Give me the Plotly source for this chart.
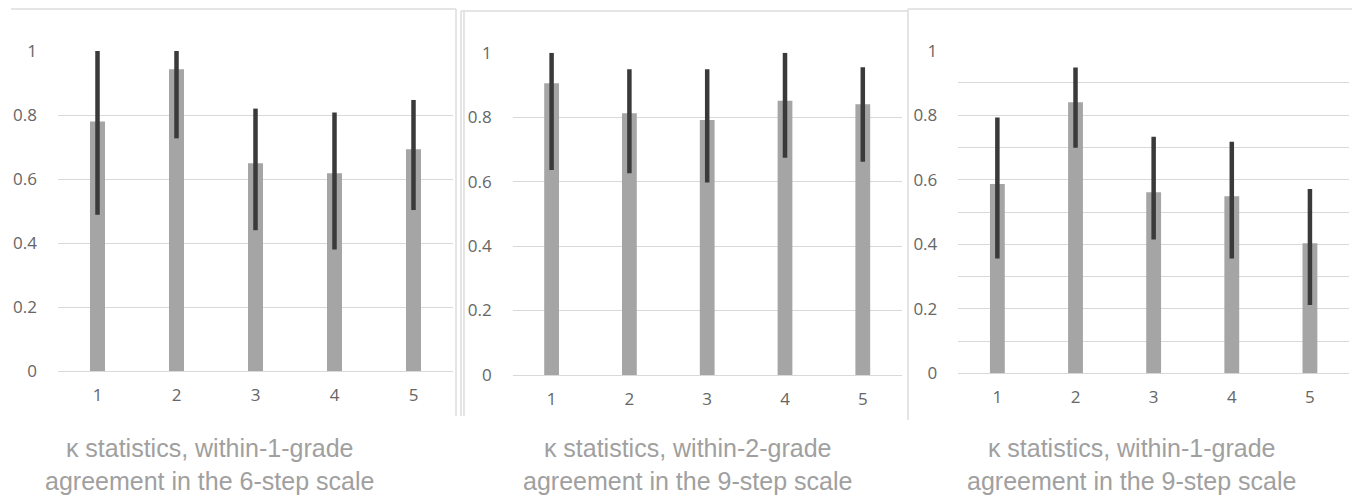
import plotly.graph_objects as go

# The page puts the figure at an 8px offset; size it so it fits the window.
OFF = 8
W, H = 1360 - OFF, 498 - OFF

categories = ["1", "2", "3", "4", "5"]

# Panel 1: within-1-grade agreement, 6-step scale
p1_value = [0.78, 0.943, 0.649, 0.618, 0.693]
p1_upper = [1.0, 1.0, 0.82, 0.808, 0.847]
p1_lower = [0.488, 0.727, 0.44, 0.38, 0.503]

# Panel 2: within-2-grade agreement, 9-step scale
p2_value = [0.905, 0.812, 0.791, 0.851, 0.840]
p2_upper = [1.0, 0.949, 0.949, 1.0, 0.955]
p2_lower = [0.636, 0.626, 0.597, 0.674, 0.662]

# Panel 3: within-1-grade agreement, 9-step scale
p3_value = [0.587, 0.840, 0.561, 0.549, 0.403]
p3_upper = [0.793, 0.948, 0.733, 0.718, 0.571]
p3_lower = [0.356, 0.699, 0.415, 0.356, 0.212]

captions = [
    "κ statistics, within-1-grade<br>agreement in the 6-step scale",
    "κ statistics, within-2-grade<br>agreement in the 9-step scale",
    "κ statistics, within-1-grade<br>agreement in the 9-step scale",
]

panels = [
    (p1_value, p1_upper, p1_lower),
    (p2_value, p2_upper, p2_lower),
    (p3_value, p3_upper, p3_lower),
]


def px(x):
    return (x - OFF) / W


def py(y):
    return 1 - (y - OFF) / H


# pixel geometry (window coords) of each plot area: (x_left, x_right, y_zero, y_one)
geom = [
    (58, 453, 371, 51),
    (512.7, 901.7, 375, 52.7),
    (958.3, 1349, 373.3, 50.7),
]
caption_x = [209, 687, 1131]

BAR = "#A5A5A5"
ERR = "#3A3A3A"
GRID = "#D9D9D9"
TICK = "#666666"

fig = go.Figure()
layout = dict(
    width=W, height=H,
    margin=dict(l=0, r=0, t=0, b=0, autoexpand=False),
    paper_bgcolor="white", plot_bgcolor="white",
    showlegend=False,
    bargap=0.81,
    font=dict(family="Open Sans", size=17, color=TICK),
)

for i, ((val, up, lo), (xl, xr, y0, y1)) in enumerate(zip(panels, geom)):
    n = "" if i == 0 else str(i + 1)
    fig.add_trace(go.Bar(
        x=categories, y=val,
        marker=dict(color=BAR, line=dict(width=0)),
        error_y=dict(type="data", symmetric=False,
                     array=[u - v for u, v in zip(up, val)],
                     arrayminus=[v - l for v, l in zip(val, lo)],
                     color=ERR, thickness=4.5, width=0),
        xaxis="x" + n, yaxis="y" + n,
        hoverinfo="skip",
    ))
    layout["xaxis" + n] = dict(
        domain=[px(xl), px(xr)], anchor="y" + n,
        type="category", range=[-0.5, 4.5],
        showgrid=False, showline=False, zeroline=False,
        ticks="", ticklabelstandoff=12, automargin=False,
        tickfont=dict(family="Open Sans", size=17, color=TICK),
        fixedrange=True,
    )
    ydict = dict(
        domain=[py(y0), py(y1)], anchor="x" + n,
        range=[0, 1.0],
        tickvals=[0, 0.2, 0.4, 0.6, 0.8, 1.0],
        ticktext=["0", "0.2", "0.4", "0.6", "0.8", "1"],
        showgrid=True, gridcolor=GRID, gridwidth=1,
        zeroline=True, zerolinecolor=GRID, zerolinewidth=1,
        showline=False, ticks="", ticklabelstandoff=20, automargin=False,
        tickfont=dict(family="Open Sans", size=17, color=TICK),
        fixedrange=True,
    )
    if i == 2:
        ydict["minor"] = dict(tickvals=[0.1, 0.3, 0.5, 0.7, 0.9], showgrid=True,
                              gridcolor=GRID, gridwidth=1)
    layout["yaxis" + n] = ydict

    fig.add_annotation(
        x=px(caption_x[i]), y=py(464), xref="paper", yref="paper",
        text=captions[i], showarrow=False, align="center",
        xanchor="center", yanchor="middle",
        font=dict(family="Liberation Sans, Arial", size=25, color="#A0A0A0"),
    )

# light panel frames (window pixel coords)
frame = "#DDDDDD"
shapes = [
    dict(type="line", x0=11, x1=456, y0=9, y1=9),
    dict(type="line", x0=456, x1=456, y0=9, y1=416),
    dict(type="line", x0=461, x1=908, y0=11, y1=11),
    dict(type="line", x0=461, x1=461, y0=11, y1=416),
    dict(type="line", x0=464, x1=464, y0=11, y1=416),
    dict(type="line", x0=908, x1=908, y0=9, y1=420),
    dict(type="line", x0=908, x1=1355, y0=9, y1=9),
]
layout["shapes"] = [
    dict(s, xref="paper", yref="paper",
         x0=px(s["x0"]), x1=px(s["x1"]),
         y0=py(s["y0"]), y1=py(s["y1"]),
         line=dict(color=frame, width=1.5), layer="below")
    for s in shapes
]

fig.update_layout(**layout)
fig.write_html("out.html")
